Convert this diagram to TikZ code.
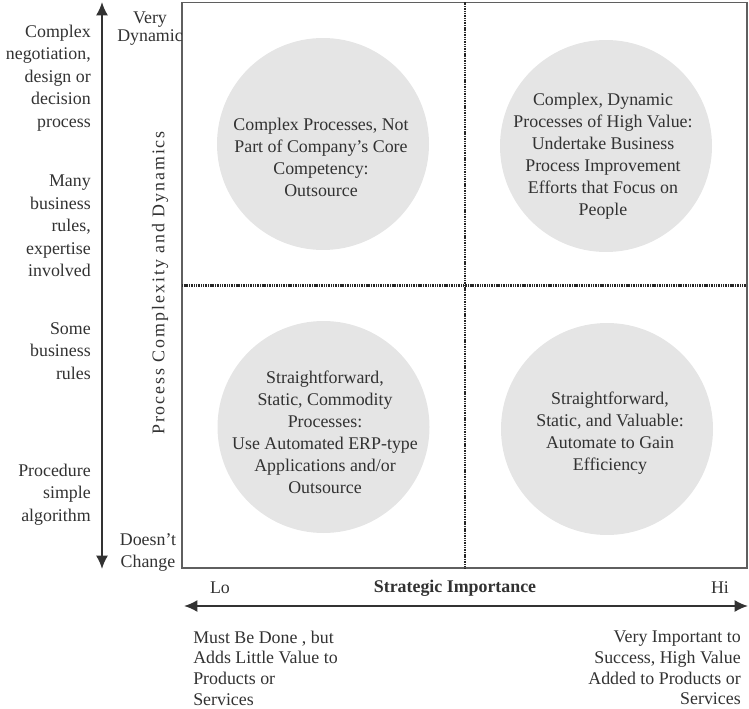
\documentclass[tikz,border=0pt]{standalone}
\usepackage{fontspec}
\setmainfont{Liberation Serif}
\usetikzlibrary{arrows.meta}
\definecolor{discgray}{RGB}{229,229,229}
\definecolor{inkgray}{RGB}{50,50,50}
\definecolor{framegray}{RGB}{95,95,95}

\begin{document}
\begin{tikzpicture}[x=0.75pt,y=-0.75pt,
  disc/.style={circle,fill=discgray,minimum size=159pt,inner sep=0pt},
  txt/.style={align=center,text=inkgray,inner sep=0pt,font=\fontsize{13.4}{16.5}\selectfont},
  lbl/.style={align=right,anchor=east,text=inkgray,inner sep=0pt,font=\fontsize{13.4}{16.9}\selectfont},
  axis/.style={line width=1.5pt,draw=inkgray,{Latex[length=10pt,width=9pt]}-{Latex[length=10pt,width=9pt]}},
  midline/.style={line width=1.7pt,draw=black!85,dash pattern=on 0.8pt off 0.5pt}]
\useasboundingbox (0,0) rectangle (749,709);
% frame and the two dotted middle lines
\draw[framegray,line width=0.8pt] (182,2.5) rectangle (747,568);
\draw[midline] (465,2.5) -- (465,568);
\draw[midline] (182,285.5) -- (747,285.5);
% grey discs
\node[disc] (tl) at (323,144) {};
\node[disc] (tr) at (606,146) {};
\node[disc] (bl) at (323.5,427) {};
\node[disc] (br) at (607,429) {};
\node[txt] (tltext) at (321,157) {Complex Processes, Not\\Part of Company's Core\\Competency:\\Outsource};
\node[txt] (trtext) at (603,156) {Complex, Dynamic\\Processes of High Value:\\Undertake Business\\Process Improvement\\Efforts that Focus on\\People};
\node[txt] (bltext) at (325,432) {Straightforward,\\Static, Commodity\\Processes:\\Use Automated ERP-type\\Applications and/or\\Outsource};
\node[txt] (brtext) at (610,433) {Straightforward,\\Static, and Valuable:\\Automate to Gain\\Efficiency};
% vertical axis
\coordinate (ytop) at (102,2);
\coordinate (ybot) at (102,569);
\draw[axis] (ybot) -- (ytop);
\node[txt,font=\fontsize{13.4}{13.5}\selectfont] (vdyn) at (150,29) {Very\\Dynamic};
\node[txt] (nochange) at (148,552) {Doesn't\\Change};
\node[txt,rotate=90,font=\fontsize{13.4}{16.5}\selectfont\addfontfeature{LetterSpace=11}] (ytitle) at (160,283) {Process Complexity and Dynamics};
\node[lbl] (lvl4) at (91,78) {Complex\\negotiation,\\design or\\decision\\process};
\node[lbl] (lvl3) at (91,226) {Many\\business\\rules,\\expertise\\involved};
\node[lbl] (lvl2) at (91,351) {Some\\business\\rules};
\node[lbl] (lvl1) at (91,494.5) {Procedure\\simple\\algorithm};
% horizontal axis
\coordinate (xleft) at (184,606);
\coordinate (xright) at (748,606);
\draw[axis] (xleft) -- (xright);
\node[txt] (lo) at (220,588) {Lo};
\node[txt,font=\fontsize{13.4}{16.5}\selectfont\bfseries] (xtitle) at (455,588) {Strategic Importance};
\node[txt] (hi) at (720,588) {Hi};
\node[txt,align=left,anchor=west,font=\fontsize{13.4}{15.5}\selectfont] (lowtext) at (193,668) {Must Be Done , but\\Adds Little Value to\\Products or\\Services};
\node[txt,align=right,anchor=east,font=\fontsize{13.4}{15.5}\selectfont] (hightext) at (741,668) {Very Important to\\Success, High Value\\Added to Products or\\Services};
\end{tikzpicture}
\end{document}
